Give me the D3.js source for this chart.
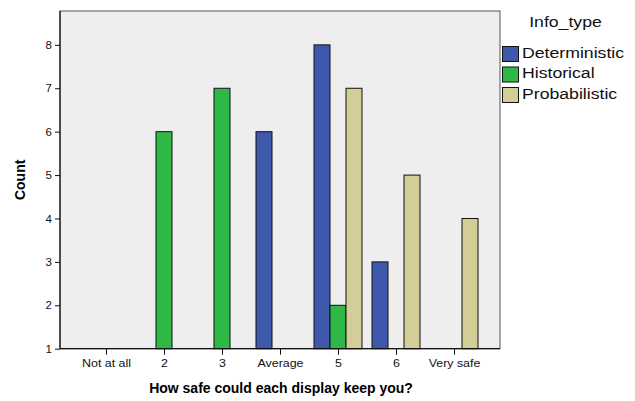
<!DOCTYPE html>
<html>
<head>
<meta charset="utf-8">
<script src="https://cdn.jsdelivr.net/npm/d3@7"></script>
<style>
  html, body { margin: 0; padding: 0; background: #ffffff; }
  svg { display: block; font-family: "Liberation Sans", Arial, sans-serif; }
</style>
</head>
<body>
<svg id="chart" width="635" height="401"></svg>
<script>
// ---- data ----
const categories = ["Not at all", "2", "3", "Average", "5", "6", "Very safe"];
const seriesNames = ["Deterministic", "Historical", "Probabilistic"];
const deterministic = [null, null, null, 6, 8, 3, null];
const historical = [null, 6, 7, null, 2, null, null];
const probabilistic = [null, null, null, null, 7, 5, 4];
const yTicks = [1, 2, 3, 4, 5, 6, 7, 8];
const yDomain = [1, 8.78];
const legendTitle = "Info_type";
const xTitle = "How safe could each display keep you?";
const yTitle = "Count";

const seriesValues = [deterministic, historical, probabilistic];
const colors = ["#3e58ac", "#2eb848", "#d3ce97"];

// ---- layout ----
const W = 635, H = 401;
const plot = { left: 60, right: 500, top: 11, bottom: 348.7 };

const svg = d3.select("#chart");

const x = d3.scalePoint().domain(categories).range([plot.left, plot.right]).padding(0.793);
const xs = d3.scaleBand().domain(seriesNames).range([-24, 24]).padding(0);
const y = d3.scaleLinear().domain(yDomain).range([plot.bottom, plot.top]);
const color = d3.scaleOrdinal().domain(seriesNames).range(colors);

// plot background
svg.append("rect")
  .attr("x", plot.left).attr("y", plot.top)
  .attr("width", plot.right - plot.left).attr("height", plot.bottom - plot.top)
  .attr("fill", "#eeeeee").attr("stroke", "#555").attr("stroke-width", 1);

// bars
const flat = [];
seriesNames.forEach((s, si) => {
  categories.forEach((c, ci) => {
    const v = seriesValues[si][ci];
    if (v != null) flat.push({ s, c, v });
  });
});

svg.append("g").selectAll("rect")
  .data(flat).join("rect")
  .attr("x", d => x(d.c) + xs(d.s))
  .attr("y", d => y(d.v))
  .attr("width", xs.bandwidth())
  .attr("height", d => y(yDomain[0]) - y(d.v))
  .attr("fill", d => color(d.s))
  .attr("stroke", "#111").attr("stroke-width", 1);

// axes
const yAxis = svg.append("g")
  .attr("transform", `translate(${plot.left},0)`)
  .call(d3.axisLeft(y).tickValues(yTicks).tickFormat(d3.format("d")).tickSize(5).tickPadding(3));
const xAxis = svg.append("g")
  .attr("transform", `translate(0,${plot.bottom})`)
  .call(d3.axisBottom(x).tickSize(6).tickPadding(4));

[yAxis, xAxis].forEach(g => {
  g.select(".domain").attr("stroke", "#111").attr("stroke-width", 1.2);
  g.selectAll(".tick line").attr("stroke", "#111").attr("stroke-width", 1);
  g.selectAll(".tick text").attr("fill", "#111").style("font-size", "11.5px")
    .style("font-family", "Liberation Sans, Arial, sans-serif");
});
xAxis.select(".domain").attr("d", `M${plot.left},0H${plot.right}`);
yAxis.select(".domain").attr("d", `M0,${plot.top}V${plot.bottom}`);
xAxis.selectAll(".tick text").attr("transform", "scale(1.08,1)");

// axis titles
svg.append("text")
  .attr("x", (plot.left + plot.right) / 2 + 1)
  .attr("y", 393)
  .attr("text-anchor", "middle")
  .style("font-size", "14px").style("font-weight", "bold")
  .attr("fill", "#000")
  .text(xTitle);

svg.append("text")
  .attr("transform", `translate(25,${(plot.top + plot.bottom) / 2}) rotate(-90)`)
  .attr("text-anchor", "middle")
  .style("font-size", "14px").style("font-weight", "bold")
  .attr("fill", "#000")
  .text(yTitle);

// legend
const legend = svg.append("g");
legend.append("text")
  .attr("transform", "translate(565.5,27) scale(1.14,1)")
  .attr("text-anchor", "middle")
  .style("font-size", "15.5px")
  .attr("fill", "#111")
  .text(legendTitle);

const rows = legend.selectAll("g.row").data(seriesNames).join("g")
  .attr("class", "row")
  .attr("transform", (d, i) => `translate(502.5,${46.5 + i * 20.5})`);
rows.append("rect")
  .attr("width", 16).attr("height", 15)
  .attr("fill", d => color(d)).attr("stroke", "#111").attr("stroke-width", 1);
rows.append("text")
  .attr("transform", "translate(19.5,11.3) scale(1.14,1)")
  .style("font-size", "15.5px")
  .attr("fill", "#111")
  .text(d => d);
</script>
</body>
</html>
